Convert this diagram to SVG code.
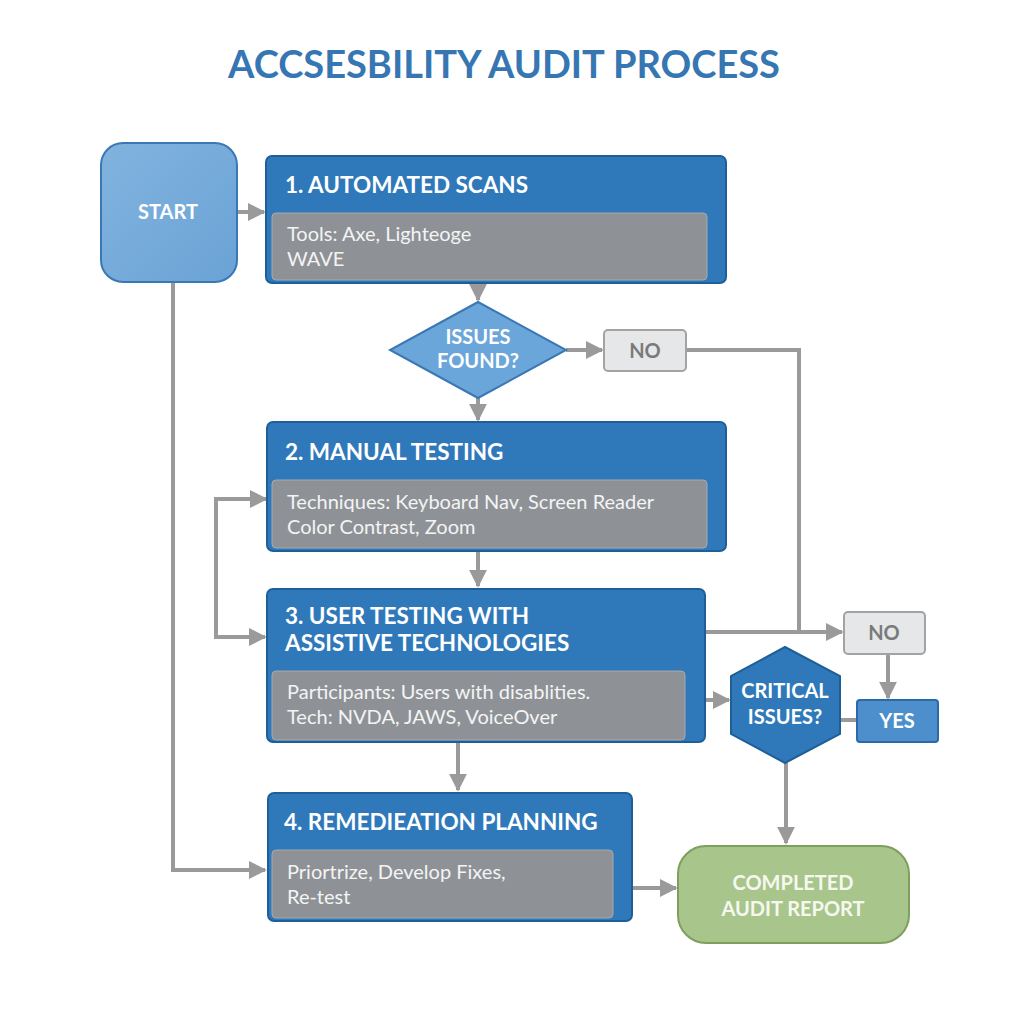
<svg xmlns="http://www.w3.org/2000/svg" width="1024" height="1024" viewBox="0 0 1024 1024">
<defs>
<style>
.title{font-family:Lato,"Open Sans",sans-serif;font-weight:700;font-size:38px;fill:#3676b3}
.hd{font-family:Lato,"Open Sans",sans-serif;font-weight:700;font-size:22.5px;fill:#ffffff}
.bd{font-family:Lato,"Open Sans",sans-serif;font-size:20px;fill:#f4f4f4}
.blue{fill:#2f79ba;stroke:#1e5f98;stroke-width:2}
.inner{fill:#8e9297;stroke:#a6a9ad;stroke-width:1}
.ln{fill:none;stroke:#9a9a9a;stroke-width:4}
.lbl{font-family:Lato,"Open Sans",sans-serif;font-weight:700;font-size:20px;fill:#ffffff;text-anchor:middle}
.no{fill:#e6e7e9;stroke:#a3a3a3;stroke-width:2}
.notx{font-family:Lato,"Open Sans",sans-serif;font-weight:700;font-size:20px;fill:#7a7a7a;text-anchor:middle}
</style>
<marker id="ah" viewBox="0 0 10 10" refX="9" refY="5" markerWidth="4.5" markerHeight="4.5" orient="auto" markerUnits="strokeWidth">
<path d="M0,0 L10,5 L0,10 z" fill="#9a9a9a"/>
</marker>
<linearGradient id="gs" x1="0" y1="0" x2="1" y2="1">
<stop offset="0" stop-color="#82b3de"/><stop offset="1" stop-color="#6aa3d6"/>
</linearGradient>
</defs>
<rect width="1024" height="1024" fill="#ffffff"/>
<text class="title" x="504" y="78" text-anchor="middle">ACCSESBILITY AUDIT PROCESS</text>

<g id="connectors">
<line class="ln" x1="237" y1="212" x2="264" y2="212" marker-end="url(#ah)"/>
<line class="ln" x1="478" y1="283" x2="478" y2="300" marker-end="url(#ah)"/>
<line class="ln" x1="566" y1="350" x2="602" y2="350" marker-end="url(#ah)"/>
<polyline class="ln" points="686,350 799,350 799,632"/>
<line class="ln" x1="478" y1="398" x2="478" y2="420" marker-end="url(#ah)"/>
<line class="ln" x1="478" y1="551" x2="478" y2="586" marker-end="url(#ah)"/>
<polyline class="ln" points="265,499 216,499 216,637 265,637" marker-end="url(#ah)"/>
<line class="ln" x1="265" y1="499" x2="266" y2="499" marker-end="url(#ah)"/>
<line class="ln" x1="705" y1="632" x2="842" y2="632" marker-end="url(#ah)"/>
<line class="ln" x1="888" y1="654" x2="888" y2="698" marker-end="url(#ah)"/>
<line class="ln" x1="705" y1="700" x2="729" y2="700" marker-end="url(#ah)"/>
<line class="ln" x1="840" y1="720" x2="857" y2="720"/>
<line class="ln" x1="786" y1="763" x2="786" y2="843" marker-end="url(#ah)"/>
<line class="ln" x1="458" y1="742" x2="458" y2="790" marker-end="url(#ah)"/>
<polyline class="ln" points="173,282 173,870 265,870" marker-end="url(#ah)"/>
<line class="ln" x1="632" y1="888" x2="676" y2="888" marker-end="url(#ah)"/>
</g>

<g id="start">
<rect x="101" y="143" width="136" height="139" rx="22" fill="url(#gs)" stroke="#3a78b5" stroke-width="2"/>
<text class="lbl" x="168" y="219">START</text>
</g>

<g id="step1">
<rect class="blue" x="266" y="156" width="460" height="127" rx="6"/>
<text class="hd" x="285" y="193">1. AUTOMATED SCANS</text>
<rect class="inner" x="272" y="213" width="435" height="67" rx="4"/>
<text class="bd" x="287" y="241">Tools: Axe, Lighteoge</text>
<text class="bd" x="287" y="266">WAVE</text>
</g>

<g id="issues-found">
<polygon points="478,302 566,350 478,398 390,350" fill="#6aa6d9" stroke="#3a78b5" stroke-width="2"/>
<text class="lbl" x="478" y="344">ISSUES</text>
<text class="lbl" x="478" y="368">FOUND?</text>
</g>

<g id="no1">
<rect class="no" x="604" y="330" width="82" height="41" rx="4"/>
<text class="notx" x="645" y="358">NO</text>
</g>

<g id="step2">
<rect class="blue" x="267" y="422" width="459" height="129" rx="6"/>
<text class="hd" x="285" y="460">2. MANUAL TESTING</text>
<rect class="inner" x="272" y="480" width="435" height="68" rx="4"/>
<text class="bd" x="287" y="509">Techniques: Keyboard Nav, Screen Reader</text>
<text class="bd" x="287" y="534">Color Contrast, Zoom</text>
</g>

<g id="step3">
<rect class="blue" x="267" y="589" width="438" height="153" rx="6"/>
<text class="hd" x="285" y="624">3. USER TESTING WITH</text>
<text class="hd" x="285" y="651">ASSISTIVE TECHNOLOGIES</text>
<rect class="inner" x="272" y="671" width="413" height="69" rx="4"/>
<text class="bd" x="287" y="699">Participants: Users with disablities.</text>
<text class="bd" x="287" y="724">Tech: NVDA, JAWS, VoiceOver</text>
</g>

<g id="no2">
<rect class="no" x="844" y="612" width="81" height="42" rx="4"/>
<text class="notx" x="884" y="640">NO</text>
</g>

<g id="critical">
<polygon points="785,647 840,676 840,734 785,763 731,734 731,676" fill="#2f79ba" stroke="#1e5f98" stroke-width="2"/>
<text class="lbl" x="785" y="698">CRITICAL</text>
<text class="lbl" x="785" y="724">ISSUES?</text>
</g>

<g id="yes">
<rect x="857" y="700" width="81" height="42" rx="3" fill="#4d8fcc" stroke="#2b6aa6" stroke-width="2"/>
<text class="lbl" x="897" y="728">YES</text>
</g>

<g id="step4">
<rect class="blue" x="268" y="793" width="364" height="128" rx="6"/>
<text class="hd" x="284" y="830">4. REMEDIEATION PLANNING</text>
<rect class="inner" x="272" y="850" width="341" height="68" rx="4"/>
<text class="bd" x="287" y="879">Priortrize, Develop Fixes,</text>
<text class="bd" x="287" y="904">Re-test</text>
</g>

<g id="completed">
<rect x="678" y="846" width="231" height="97" rx="28" fill="#a8c68b" stroke="#7e9f5e" stroke-width="2"/>
<text class="lbl" x="793" y="890" style="fill:#f6f8f0">COMPLETED</text>
<text class="lbl" x="793" y="916" style="fill:#f6f8f0">AUDIT REPORT</text>
</g>
</svg>
